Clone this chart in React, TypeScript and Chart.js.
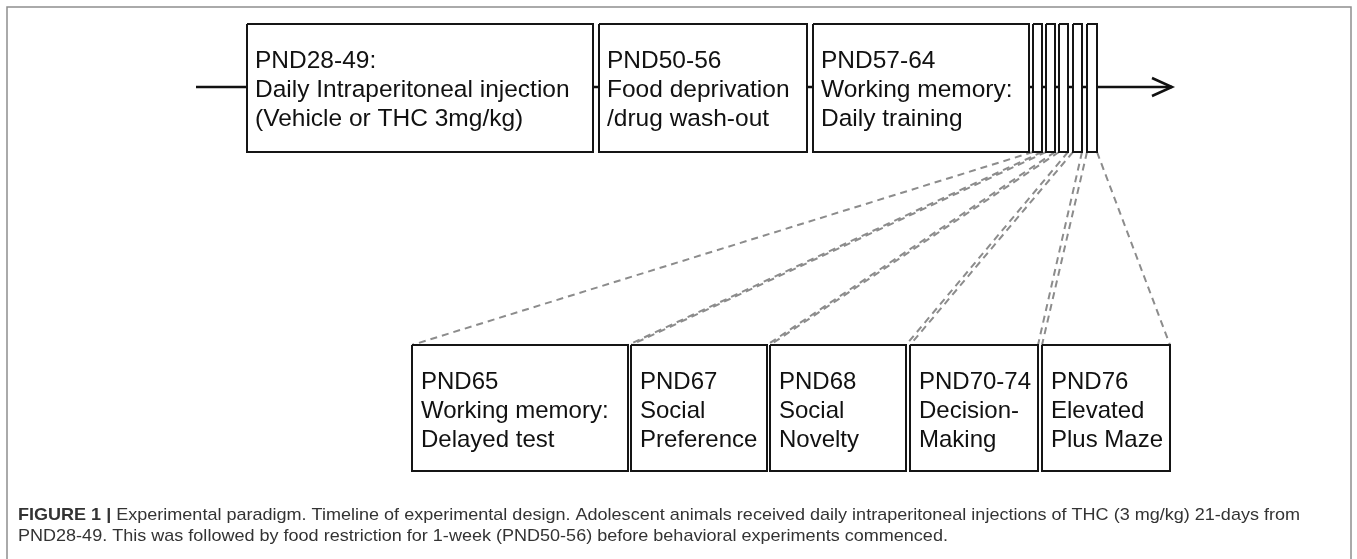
import React, { useEffect, useRef } from "react";
import { Chart, registerables } from "chart.js";

Chart.register(...registerables);

const W = 1357;
const H = 559;

// Top timeline stages
const stageLabels: string[][] = [
  ["PND28-49:", "Daily Intraperitoneal injection", "(Vehicle or THC 3mg/kg)"],
  ["PND50-56", "Food deprivation", "/drug wash-out"],
  ["PND57-64", "Working memory:", "Daily training"],
];
const stageStart = [247, 599, 813];
const stageEnd = [593, 807, 1029];
const stageTop = 24;
const stageBottom = 152;

// Narrow test-day markers on the timeline
const markerStart = [1033, 1046, 1059, 1073, 1087];
const markerEnd = [1042, 1055, 1068, 1082, 1097];

// Behavioural tests (lower row)
const testLabels: string[][] = [
  ["PND65", "Working memory:", "Delayed test"],
  ["PND67", "Social", "Preference"],
  ["PND68", "Social", "Novelty"],
  ["PND70-74", "Decision-", "Making"],
  ["PND76", "Elevated", "Plus Maze"],
];
const testStart = [412, 631, 770, 910, 1042];
const testEnd = [628, 767, 906, 1038, 1170];
const testTop = 345;
const testBottom = 471;

// Timeline axis
const timelineY = 87;
const timelineStart = 196;
const timelineEnd = 1172;

// Caption
const captionBold = "FIGURE 1 |";
const captionLine1 =
  " Experimental paradigm. Timeline of experimental design. Adolescent animals received daily intraperitoneal injections of THC (3 mg/kg) 21-days from";
const captionLine2 =
  "PND28-49. This was followed by food restriction for 1-week (PND50-56) before behavioral experiments commenced.";

const rect = (x0: number, x1: number, y0: number, y1: number) => [
  { x: x0, y: y0 },
  { x: x1, y: y0 },
  { x: x1, y: y1 },
  { x: x0, y: y1 },
  { x: x0, y: y0 },
];

export default function App() {
  const ref = useRef<HTMLCanvasElement | null>(null);

  useEffect(() => {
    if (!ref.current) return;
    const datasets: any[] = [];

    // frame
    datasets.push({
      data: [
        { x: 7, y: H + 5 },
        { x: 7, y: 7 },
        { x: 1351, y: 7 },
        { x: 1351, y: H + 5 },
      ],
      borderColor: "#8f8f8f",
      borderWidth: 1.5,
      order: 20,
    });

    // timeline
    datasets.push({
      data: [
        { x: timelineStart, y: timelineY },
        { x: timelineEnd, y: timelineY },
      ],
      borderColor: "#111",
      borderWidth: 2.5,
      order: 10,
    });
    datasets.push({
      data: [
        { x: timelineEnd - 20, y: timelineY - 9 },
        { x: timelineEnd, y: timelineY },
        { x: timelineEnd - 20, y: timelineY + 9 },
      ],
      borderColor: "#111",
      borderWidth: 2.5,
      order: 10,
    });

    // dashed connectors
    for (let i = 0; i < testLabels.length; i++) {
      datasets.push({
        data: [
          { x: markerStart[i], y: stageBottom },
          { x: testStart[i], y: testTop },
        ],
        borderColor: "#8c8c8c",
        borderWidth: 2,
        borderDash: [7, 5],
        order: 8,
      });
      datasets.push({
        data: [
          { x: markerEnd[i], y: stageBottom },
          { x: testEnd[i], y: testTop },
        ],
        borderColor: "#8c8c8c",
        borderWidth: 2,
        borderDash: [7, 5],
        order: 8,
      });
    }

    const box = (x0: number, x1: number, y0: number, y1: number) => ({
      data: rect(x0, x1, y0, y1),
      borderColor: "#151515",
      borderWidth: 2,
      backgroundColor: "#ffffff",
      fill: "shape",
      order: 1,
    });
    for (let i = 0; i < stageLabels.length; i++)
      datasets.push(box(stageStart[i], stageEnd[i], stageTop, stageBottom));
    for (let i = 0; i < markerStart.length; i++)
      datasets.push(box(markerStart[i], markerEnd[i], stageTop, stageBottom));
    for (let i = 0; i < testLabels.length; i++)
      datasets.push(box(testStart[i], testEnd[i], testTop, testBottom));

    const textPlugin = {
      id: "diagramText",
      afterDatasetsDraw(chart: any) {
        const { ctx, scales } = chart;
        const xs = scales.x;
        const ys = scales.y;
        ctx.save();
        ctx.fillStyle = "#111";
        ctx.font = "24.5px 'Liberation Sans', Arial, sans-serif";
        ctx.textBaseline = "alphabetic";
        ctx.textAlign = "left";
        const lineH = 29;
        stageLabels.forEach((lines, i) => {
          lines.forEach((t, j) => {
            ctx.fillText(
              t,
              xs.getPixelForValue(stageStart[i] + 8),
              ys.getPixelForValue(stageTop + 44 + j * lineH)
            );
          });
        });
        ctx.font = "24px 'Liberation Sans', Arial, sans-serif";
        testLabels.forEach((lines, i) => {
          lines.forEach((t, j) => {
            ctx.fillText(
              t,
              xs.getPixelForValue(testStart[i] + 9),
              ys.getPixelForValue(testTop + 44 + j * lineH)
            );
          });
        });

        // caption
        ctx.fillStyle = "#333";
        const boldFont = "bold 17px 'Liberation Sans', Arial, sans-serif";
        const regFont = "17px 'Liberation Sans', Arial, sans-serif";
        ctx.font = boldFont;
        const bw = ctx.measureText(captionBold).width;
        ctx.font = regFont;
        const rw = ctx.measureText(captionLine1).width;
        const x0 = xs.getPixelForValue(18);
        const target = xs.getPixelForValue(1300) - x0;
        const sx = target / (bw + rw);
        ctx.save();
        ctx.translate(x0, ys.getPixelForValue(520));
        ctx.scale(sx, 1);
        ctx.font = boldFont;
        ctx.fillText(captionBold, 0, 0);
        ctx.font = regFont;
        ctx.fillText(captionLine1, bw, 0);
        ctx.restore();
        ctx.save();
        ctx.translate(x0, ys.getPixelForValue(541));
        ctx.scale(sx, 1);
        ctx.font = regFont;
        ctx.fillText(captionLine2, 0, 0);
        ctx.restore();
        ctx.restore();
      },
    };

    const chart = new Chart(ref.current, {
      type: "scatter",
      data: { datasets },
      options: {
        responsive: false,
        animation: false,
        showLine: true,
        layout: { padding: 0 },
        elements: { point: { radius: 0 }, line: { tension: 0 } },
        scales: {
          x: { type: "linear", min: 0, max: W, display: false },
          y: { type: "linear", min: 0, max: H, reverse: true, display: false },
        },
        plugins: { legend: { display: false }, tooltip: { enabled: false } },
      } as any,
      plugins: [textPlugin],
    });
    return () => chart.destroy();
  }, []);

  return (
    <div style={{ position: "fixed", left: 0, top: 0, width: W, height: H, background: "#fff" }}>
      <canvas ref={ref} width={W} height={H} style={{ display: "block" }} />
    </div>
  );
}
